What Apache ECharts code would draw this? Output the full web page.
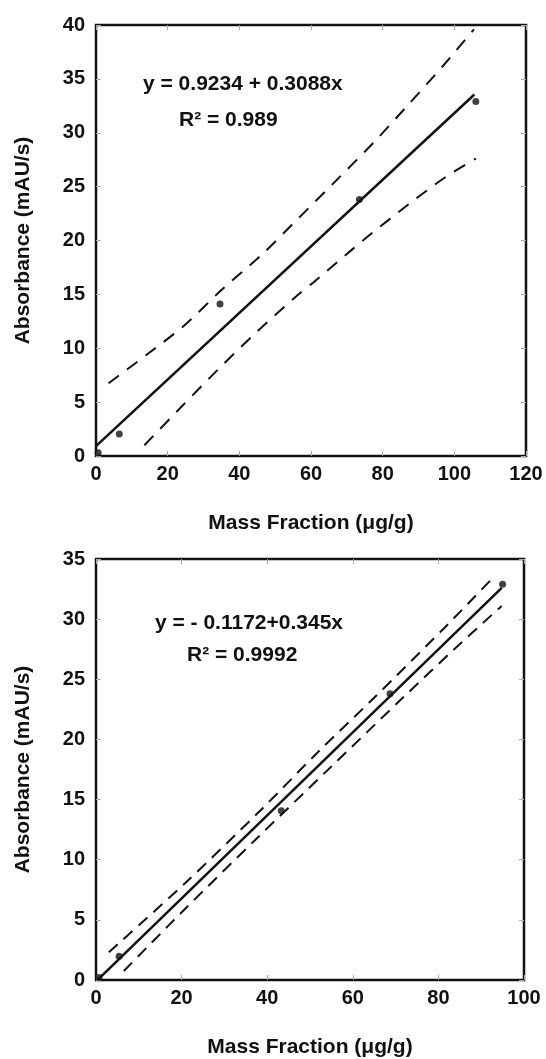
<!DOCTYPE html>
<html>
<head>
<meta charset="utf-8">
<script src="https://cdn.jsdelivr.net/npm/echarts@6/dist/echarts.min.js"></script>
<style>
  html, body { margin: 0; padding: 0; background: #fff; }
  #chart { width: 546px; height: 1059px; }
</style>
</head>
<body>
<div id="chart"></div>
<script>
// top panel (calibration 1)
const topPoints = [[0.6, 0.3], [6.5, 2.05], [34.6, 14.1], [73.5, 23.8], [106.0, 32.9]]
const topFit = [[0, 0.92], [105.6, 33.55]]
const topUpper = [[3.5, 6.75], [14.4, 9.47], [24.8, 12.16], [35.3, 15.5], [46.0, 18.6], [56.3, 22.0],
  [67.0, 25.56], [77.5, 29.1], [87.4, 32.7], [96.7, 36.15], [105.5, 39.6]]
const topLower = [[13.5, 1.0], [23.7, 4.52], [34.2, 8.08], [44.8, 11.5], [55.6, 14.74], [61.0, 16.2],
  [71.6, 19.2], [76.7, 20.6], [87.4, 23.4], [97.6, 25.9], [106.0, 27.6]]

// bottom panel (calibration 2)
const botPoints = [[0.7, 0.2], [5.4, 1.98], [43.3, 14.08], [68.7, 23.8], [95.0, 32.9]]
const botFit = [[0.5, 0.06], [94.8, 32.6]]
const botUpper = [[3.0, 2.3], [20.8, 8.05], [38.7, 14.2], [52.0, 19.0], [64.8, 23.4], [82.3, 29.6], [92.9, 33.5]]
const botLower = [[6.5, 0.75], [19.8, 5.55], [37.5, 11.75], [55.0, 17.75], [71.8, 23.5], [84.0, 27.6], [94.8, 31.1]]

const topEq = 'y = 0.9234 + 0.3088x'
const topR2 = 'R² = 0.989'
const botEq = 'y = - 0.1172+0.345x'
const botR2 = 'R² = 0.9992'
const xName = 'Mass Fraction (\u03bcg/g)'
const yName = 'Absorbance (mAU/s)'

const font = 'Liberation Sans, Arial, sans-serif'
const ink = '#111'
const tick = { inside: true, length: 5, lineStyle: { color: '#aaa', width: 1 } }

function mainX(grid, max) {
  return {
    type: 'value', gridIndex: grid, min: 0, max: max, interval: 20, position: 'bottom',
    name: xName, nameLocation: 'middle', nameGap: 57,
    nameTextStyle: { fontSize: 21, fontWeight: 'bold', fontFamily: font, color: ink },
    axisLine: { show: false, onZero: false },
    axisTick: tick,
    axisLabel: { margin: 8, fontSize: 20, fontWeight: 'bold', fontFamily: font, color: ink },
    splitLine: { show: false }
  }
}
function mainY(grid, max) {
  return {
    type: 'value', gridIndex: grid, min: 0, max: max, interval: 5, position: 'left',
    name: yName, nameLocation: 'middle', nameGap: 62,
    nameTextStyle: { fontSize: 21, fontWeight: 'bold', fontFamily: font, color: ink },
    axisLine: { show: false, onZero: false },
    axisTick: tick,
    axisLabel: { margin: 11, fontSize: 20, fontWeight: 'bold', fontFamily: font, color: ink },
    splitLine: { show: false }
  }
}
// tick-only axes on the opposite sides of the box
function mirror(grid, max, interval, pos) {
  return {
    type: 'value', gridIndex: grid, min: 0, max: max, interval: interval, position: pos,
    axisLine: { show: false, onZero: false },
    axisTick: tick,
    axisLabel: { show: false },
    splitLine: { show: false }
  }
}

function pts(data, x, y) {
  return { type: 'scatter', xAxisIndex: x, yAxisIndex: y, data: data, symbol: 'circle', symbolSize: 7,
    itemStyle: { color: ink }, z: 5 }
}
function fit(data, x, y) {
  return { type: 'line', xAxisIndex: x, yAxisIndex: y, data: data, symbol: 'none',
    lineStyle: { color: ink, width: 2.5 } }
}
function band(data, x, y, dash) {
  return { type: 'line', xAxisIndex: x, yAxisIndex: y, data: data, symbol: 'none', smooth: 0.3,
    lineStyle: { color: ink, width: 2, type: dash } }
}

const myChart = echarts.init(document.getElementById('chart'))
myChart.setOption({
  animation: false,
  backgroundColor: '#fff',
  grid: [
    { left: 96, top: 25, width: 430, height: 431, show: true, borderColor: ink, borderWidth: 2.5 },
    { left: 96, top: 559, width: 428, height: 426, show: true, borderColor: ink, borderWidth: 2.5 }
  ],
  xAxis: [
    mainX(0, 120),
    mirror(0, 120, 20, 'top'),
    mainX(1, 100),
    mirror(1, 100, 20, 'top')
  ],
  yAxis: [
    mainY(0, 40),
    mirror(0, 40, 5, 'right'),
    mainY(1, 35),
    mirror(1, 35, 5, 'right')
  ],
  graphic: [
    { type: 'text', left: 143, top: 74, style: { text: topEq, font: 'bold 21px ' + font, fill: ink } },
    { type: 'text', left: 179, top: 110, style: { text: topR2, font: 'bold 21px ' + font, fill: ink } },
    { type: 'text', left: 155, top: 613, style: { text: botEq, font: 'bold 21px ' + font, fill: ink } },
    { type: 'text', left: 187, top: 645, style: { text: botR2, font: 'bold 21px ' + font, fill: ink } }
  ],
  series: [
    band(topUpper, 0, 0, [13, 10]),
    band(topLower, 0, 0, [13, 10]),
    fit(topFit, 0, 0),
    pts(topPoints, 0, 0),
    band(botUpper, 2, 2, [12, 8]),
    band(botLower, 2, 2, [12, 8]),
    fit(botFit, 2, 2),
    pts(botPoints, 2, 2)
  ]
})
</script>
</body>
</html>
